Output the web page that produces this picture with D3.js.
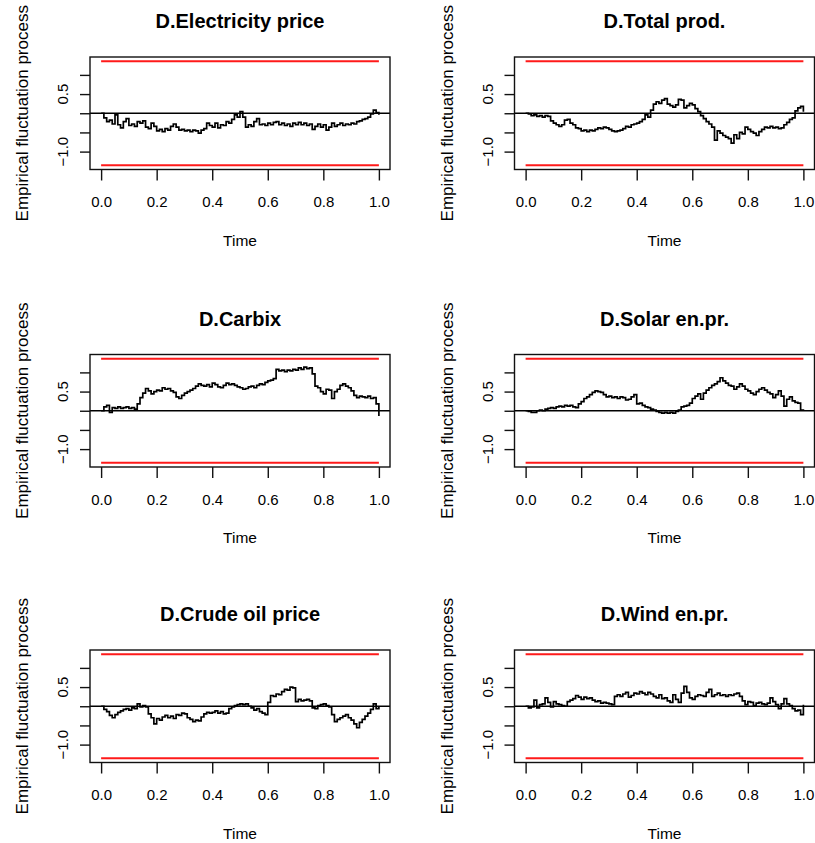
<!DOCTYPE html>
<html>
<head>
<meta charset="utf-8">
<script src="https://cdn.jsdelivr.net/npm/d3@7"></script>
<style>
  body { margin: 0; background: #fff; }
  svg { display: block; }
  text { font-family: "Liberation Sans", Arial, sans-serif; fill: #000; }
</style>
</head>
<body>
<svg id="chart" width="815" height="843"></svg>
<script>
// panel titles, in drawing order (row by row)
var titles = ["D.Electricity price", "D.Total prod.", "D.Carbix", "D.Solar en.pr.", "D.Crude oil price", "D.Wind en.pr."];

// empirical fluctuation process at time 0, 0.01, ..., 1
var electricity = [0.00, -0.12, -0.22, -0.18, -0.28, -0.04, -0.30, -0.38, -0.22, -0.14,
  -0.32, -0.28, -0.34, -0.22, -0.26, -0.20, -0.36, -0.40, -0.26, -0.34,
  -0.46, -0.42, -0.48, -0.40, -0.44, -0.34, -0.28, -0.36, -0.44, -0.42,
  -0.46, -0.44, -0.48, -0.44, -0.46, -0.52, -0.44, -0.40, -0.26, -0.32,
  -0.36, -0.26, -0.38, -0.30, -0.32, -0.22, -0.26, -0.16, -0.04, -0.10,
  0.04, -0.10, -0.36, -0.30, -0.34, -0.22, -0.14, -0.30, -0.28, -0.32,
  -0.26, -0.30, -0.24, -0.22, -0.30, -0.26, -0.32, -0.28, -0.34, -0.26,
  -0.30, -0.24, -0.30, -0.26, -0.32, -0.28, -0.42, -0.34, -0.28, -0.36,
  -0.30, -0.44, -0.36, -0.26, -0.34, -0.30, -0.26, -0.32, -0.28, -0.30,
  -0.26, -0.28, -0.22, -0.20, -0.16, -0.14, -0.10, -0.02, 0.08, 0.02, -0.04];

var totalProd = [0.00, -0.02, -0.06, -0.04, -0.08, -0.06, -0.10, -0.06, -0.08, -0.20,
  -0.26, -0.30, -0.34, -0.30, -0.18, -0.16, -0.26, -0.30, -0.38, -0.40,
  -0.46, -0.44, -0.48, -0.44, -0.46, -0.42, -0.38, -0.40, -0.36, -0.38,
  -0.42, -0.46, -0.48, -0.46, -0.44, -0.40, -0.34, -0.36, -0.30, -0.28,
  -0.26, -0.22, -0.16, -0.04, -0.10, 0.08, 0.24, 0.30, 0.26, 0.34,
  0.38, 0.24, 0.20, 0.16, 0.22, 0.36, 0.34, 0.14, 0.20, 0.26,
  0.22, 0.12, 0.04, -0.06, -0.14, -0.22, -0.28, -0.36, -0.70, -0.46,
  -0.52, -0.58, -0.62, -0.66, -0.78, -0.56, -0.66, -0.50, -0.54, -0.36,
  -0.42, -0.48, -0.52, -0.58, -0.48, -0.42, -0.36, -0.38, -0.34, -0.38,
  -0.36, -0.40, -0.38, -0.30, -0.24, -0.16, -0.12, 0.06, 0.14, 0.18, 0.04];

var carbix = [0.00, 0.10, 0.14, -0.04, 0.08, 0.06, 0.10, 0.06, 0.08, 0.10,
  0.06, 0.08, 0.04, 0.18, 0.34, 0.46, 0.58, 0.52, 0.44, 0.50,
  0.54, 0.52, 0.60, 0.56, 0.58, 0.52, 0.48, 0.36, 0.32, 0.40,
  0.46, 0.50, 0.54, 0.58, 0.64, 0.70, 0.66, 0.64, 0.68, 0.62,
  0.72, 0.68, 0.62, 0.60, 0.66, 0.72, 0.68, 0.70, 0.66, 0.62,
  0.60, 0.56, 0.58, 0.62, 0.64, 0.60, 0.66, 0.70, 0.68, 0.74,
  0.78, 0.80, 0.84, 1.08, 1.04, 1.06, 1.02, 1.06, 1.04, 1.08,
  1.06, 1.12, 1.08, 1.14, 1.10, 1.12, 0.96, 0.64, 0.60, 0.50,
  0.44, 0.56, 0.54, 0.32, 0.50, 0.56, 0.66, 0.70, 0.64, 0.60,
  0.52, 0.40, 0.34, 0.38, 0.36, 0.34, 0.38, 0.32, 0.34, 0.18, -0.14];

var solar = [0.00, -0.02, -0.04, -0.04, 0.00, 0.02, 0.00, 0.04, 0.06, 0.08,
  0.06, 0.10, 0.12, 0.10, 0.14, 0.12, 0.14, 0.10, 0.08, 0.18,
  0.24, 0.32, 0.36, 0.42, 0.48, 0.52, 0.50, 0.48, 0.42, 0.36,
  0.38, 0.34, 0.36, 0.32, 0.36, 0.34, 0.28, 0.30, 0.36, 0.42,
  0.18, 0.20, 0.14, 0.10, 0.08, 0.04, 0.02, -0.02, -0.04, -0.06,
  -0.04, -0.06, -0.04, -0.06, -0.02, 0.02, 0.10, 0.12, 0.14, 0.20,
  0.32, 0.38, 0.44, 0.30, 0.46, 0.54, 0.60, 0.66, 0.70, 0.76,
  0.86, 0.78, 0.72, 0.66, 0.64, 0.56, 0.62, 0.70, 0.64, 0.56,
  0.52, 0.46, 0.42, 0.50, 0.56, 0.60, 0.54, 0.48, 0.44, 0.34,
  0.42, 0.52, 0.38, 0.12, 0.30, 0.36, 0.26, 0.22, 0.20, 0.02, 0.00];

var crudeOil = [0.00, -0.08, -0.14, -0.24, -0.30, -0.22, -0.16, -0.12, -0.08, -0.06,
  -0.10, -0.04, -0.06, 0.06, -0.02, 0.02, -0.02, -0.20, -0.30, -0.46,
  -0.32, -0.36, -0.28, -0.24, -0.30, -0.26, -0.32, -0.22, -0.24, -0.18,
  -0.20, -0.30, -0.34, -0.40, -0.36, -0.38, -0.28, -0.20, -0.16, -0.18,
  -0.16, -0.12, -0.18, -0.14, -0.20, -0.18, -0.06, -0.02, 0.02, 0.04,
  0.06, 0.04, 0.06, 0.00, -0.04, -0.10, -0.06, -0.14, -0.18, -0.22,
  0.10, 0.28, 0.26, 0.32, 0.30, 0.38, 0.44, 0.42, 0.50, 0.48,
  0.12, 0.18, 0.14, 0.16, 0.18, 0.14, -0.04, -0.06, 0.02, 0.04,
  0.06, 0.02, -0.02, -0.22, -0.40, -0.34, -0.30, -0.26, -0.22, -0.30,
  -0.36, -0.46, -0.56, -0.42, -0.34, -0.26, -0.18, -0.08, 0.06, -0.06, -0.02];

var wind = [0.00, -0.04, -0.02, 0.16, -0.04, 0.04, 0.06, 0.22, 0.10, -0.02,
  0.12, 0.06, 0.04, 0.02, 0.00, 0.12, 0.16, 0.20, 0.28, 0.24,
  0.18, 0.24, 0.20, 0.22, 0.16, 0.12, 0.14, 0.08, 0.10, 0.08,
  0.06, 0.04, 0.26, 0.30, 0.26, 0.32, 0.36, 0.24, 0.28, 0.34,
  0.32, 0.38, 0.34, 0.30, 0.36, 0.32, 0.26, 0.22, 0.30, 0.20,
  0.22, 0.14, 0.10, 0.30, 0.18, 0.10, 0.34, 0.52, 0.36, 0.22,
  0.18, 0.26, 0.30, 0.28, 0.26, 0.36, 0.44, 0.26, 0.30, 0.34,
  0.28, 0.30, 0.26, 0.30, 0.28, 0.32, 0.34, 0.26, 0.14, 0.04,
  0.12, 0.10, 0.02, 0.08, 0.10, 0.06, 0.04, 0.08, 0.22, 0.12,
  0.04, -0.06, 0.06, 0.20, 0.06, 0.02, -0.06, -0.12, -0.10, -0.22, 0.04];

var series = [electricity, totalProd, carbix, solar, crudeOil, wind];

var xTicks = [0, 0.2, 0.4, 0.6, 0.8, 1.0];
var yTicks = [-1.0, -0.5, 0, 0.5, 1.0];
var yLabelled = [-1.0, 0.5];   // R drops the overlapping ones
var boundary = 1.358;          // 5% critical value

var svg = d3.select("#chart");

// plot boxes
var colX = [90, 514.5],
    rowY = [57, 354.5, 650],
    w = 300,
    h = 112.5;

var x = d3.scaleLinear().domain([-0.04, 1.04]).range([0, w]);
var y = d3.scaleLinear().domain([-boundary * 1.08, boundary * 1.08]).range([h, 0]);

var fmt = d3.format(".1f");

var line = d3.line()
    .x(function(d) { return x(d[0]); })
    .y(function(d) { return y(d[1]); })
    .curve(d3.curveStepAfter);

series.forEach(function(values, i) {
  var g = svg.append("g")
      .attr("transform", "translate(" + colX[i % 2] + "," + rowY[Math.floor(i / 2)] + ")");

  var n = values.length;
  var pts = values.map(function(v, k) { return [k / (n - 1), v]; });

  // boundaries
  [boundary, -boundary].forEach(function(b) {
    g.append("line")
      .attr("x1", x(0)).attr("x2", x(1))
      .attr("y1", y(b)).attr("y2", y(b))
      .attr("stroke", "#ff1a1a")
      .attr("stroke-width", 2);
  });

  // zero line
  g.append("line")
    .attr("x1", 0).attr("x2", w)
    .attr("y1", y(0)).attr("y2", y(0))
    .attr("stroke", "#000")
    .attr("stroke-width", 1.4);

  g.append("path")
    .datum(pts)
    .attr("d", line)
    .attr("fill", "none")
    .attr("stroke", "#000")
    .attr("stroke-width", 1.7);

  // box
  g.append("rect")
    .attr("width", w).attr("height", h)
    .attr("fill", "none")
    .attr("stroke", "#111")
    .attr("stroke-width", 1.4);

  // x axis
  var xa = g.append("g")
      .attr("transform", "translate(0," + h + ")")
      .call(d3.axisBottom(x).tickValues(xTicks).tickSize(11).tickPadding(16).tickFormat(fmt));
  xa.select(".domain").remove();
  xa.selectAll("line").attr("stroke", "#111").attr("stroke-width", 1.4);
  xa.selectAll("text").attr("font-size", 15).attr("fill", "#000")
    .style("font-family", '"Liberation Sans", Arial, sans-serif');

  // y axis
  var ya = g.append("g")
      .call(d3.axisLeft(y).tickValues(yTicks).tickSize(10).tickFormat(""));
  ya.select(".domain").remove();
  ya.selectAll("line").attr("stroke", "#111").attr("stroke-width", 1.4);

  yLabelled.forEach(function(v) {
    g.append("text")
      .attr("transform", "translate(-22," + y(v) + ") rotate(-90)")
      .attr("text-anchor", "middle")
      .attr("font-size", 15)
      .text(fmt(v));
  });

  // titles
  g.append("text")
    .attr("x", w / 2).attr("y", -29)
    .attr("text-anchor", "middle")
    .attr("font-size", 20)
    .attr("font-weight", "bold")
    .text(titles[i]);

  g.append("text")
    .attr("x", w / 2).attr("y", h + 76)
    .attr("text-anchor", "middle")
    .attr("font-size", 15.5)
    .text("Time");

  g.append("text")
    .attr("transform", "translate(-62," + (h / 2) + ") rotate(-90)")
    .attr("text-anchor", "middle")
    .attr("font-size", 17)
    .text("Empirical fluctuation process");
});
</script>
</body>
</html>
